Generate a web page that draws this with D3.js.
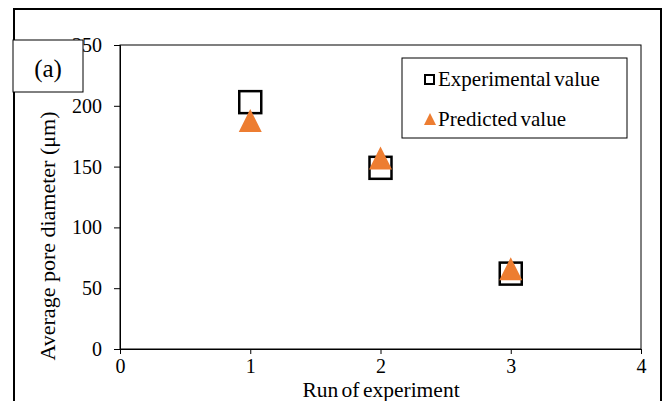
<!DOCTYPE html>
<html>
<head>
<meta charset="utf-8">
<script src="https://cdn.jsdelivr.net/npm/d3@7"></script>
<style>
  body { margin: 0; background: #fff; }
  text { font-family: "Liberation Serif", "Times New Roman", serif; fill: #000; }
</style>
</head>
<body>
<div id="chart"></div>
<script>
// data
const runs = [1, 2, 3];
const experimental = [203, 149, 62];
const predicted = [188, 157, 66];
const xTicks = [0, 1, 2, 3, 4];
const yTicks = [0, 50, 100, 150, 200, 250];

const width = 666, height = 401;
const svg = d3.select("#chart").append("svg")
    .attr("width", width)
    .attr("height", height);

// outer frame of the figure
svg.append("rect")
    .attr("x", 14).attr("y", 9)
    .attr("width", 647).attr("height", 420)
    .attr("fill", "none")
    .attr("stroke", "#000")
    .attr("stroke-width", 2);

const plot = { left: 120, right: 641, top: 45, bottom: 349 };

const x = d3.scaleLinear().domain([0, 4]).range([plot.left, plot.right]);
const y = d3.scaleLinear().domain([0, 250]).range([plot.bottom, plot.top]);

// plot area border
svg.append("rect")
    .attr("x", plot.left).attr("y", plot.top)
    .attr("width", plot.right - plot.left)
    .attr("height", plot.bottom - plot.top)
    .attr("fill", "none")
    .attr("stroke", "#000")
    .attr("stroke-width", 1);

const yAxis = svg.append("g")
    .attr("transform", `translate(${plot.left},0)`)
    .call(d3.axisLeft(y).tickValues(yTicks).tickSize(6).tickPadding(12));
const xAxis = svg.append("g")
    .attr("transform", `translate(0,${plot.bottom})`)
    .call(d3.axisBottom(x).tickValues(xTicks).tickFormat(d3.format("d")).tickSize(5).tickPadding(3));

[xAxis, yAxis].forEach(a => {
    a.attr("font-family", null);
    a.select(".domain").attr("stroke", "#000");
    a.selectAll(".tick line").attr("stroke", "#000");
    a.selectAll(".tick text")
        .style("font-size", "20px")
        .attr("fill", "#000");
});
xAxis.selectAll(".tick text").attr("dy", "0.8em");

// axis titles
svg.append("text")
    .attr("x", 381)
    .attr("y", 397)
    .attr("text-anchor", "middle")
    .style("font-size", "21.5px")
    .style("word-spacing", "-2px")
    .text("Run of experiment");

svg.append("text")
    .attr("transform", "translate(55, 236) rotate(-90)")
    .attr("text-anchor", "middle")
    .style("font-size", "22px")
    .text("Average pore diameter (μm)");

// experimental markers (squares)
const sq = 22;
svg.selectAll(".exp")
    .data(runs.map((r, i) => ({ run: r, value: experimental[i] })))
    .enter()
    .append("rect")
    .attr("class", "exp")
    .attr("x", d => x(d.run) - sq / 2)
    .attr("y", d => y(d.value) - sq / 2)
    .attr("width", sq)
    .attr("height", sq)
    .attr("fill", "none")
    .attr("stroke", "#000")
    .attr("stroke-width", 2.5);

// predicted markers (triangles)
const tri = (cx, cy, w, h) => `M${cx},${cy - h / 2}L${cx + w / 2},${cy + h / 2}L${cx - w / 2},${cy + h / 2}Z`;
svg.selectAll(".pred")
    .data(runs.map((r, i) => ({ run: r, value: predicted[i] })))
    .enter()
    .append("path")
    .attr("class", "pred")
    .attr("d", d => tri(x(d.run), y(d.value), 23, 23))
    .attr("fill", "#ED7D31");

// legend
const legend = svg.append("g");
legend.append("rect")
    .attr("x", 402).attr("y", 58)
    .attr("width", 225).attr("height", 80)
    .attr("fill", "#fff")
    .attr("stroke", "#000")
    .attr("stroke-width", 1);
legend.append("rect")
    .attr("x", 425).attr("y", 75)
    .attr("width", 9).attr("height", 9)
    .attr("fill", "none")
    .attr("stroke", "#000")
    .attr("stroke-width", 2);
legend.append("path")
    .attr("d", tri(430, 119, 12, 12))
    .attr("fill", "#ED7D31");
legend.append("text")
    .attr("x", 438).attr("y", 86)
    .style("font-size", "21px")
    .style("word-spacing", "-2px")
    .text("Experimental value");
legend.append("text")
    .attr("x", 438).attr("y", 126)
    .style("font-size", "21px")
    .style("word-spacing", "-2px")
    .text("Predicted value");

// panel label
svg.append("rect")
    .attr("x", 13).attr("y", 40)
    .attr("width", 70).attr("height", 52)
    .attr("fill", "#fff")
    .attr("stroke", "#000")
    .attr("stroke-width", 1);
svg.append("text")
    .attr("x", 48).attr("y", 77)
    .attr("text-anchor", "middle")
    .style("font-size", "25px")
    .text("(a)");
</script>
</body>
</html>
